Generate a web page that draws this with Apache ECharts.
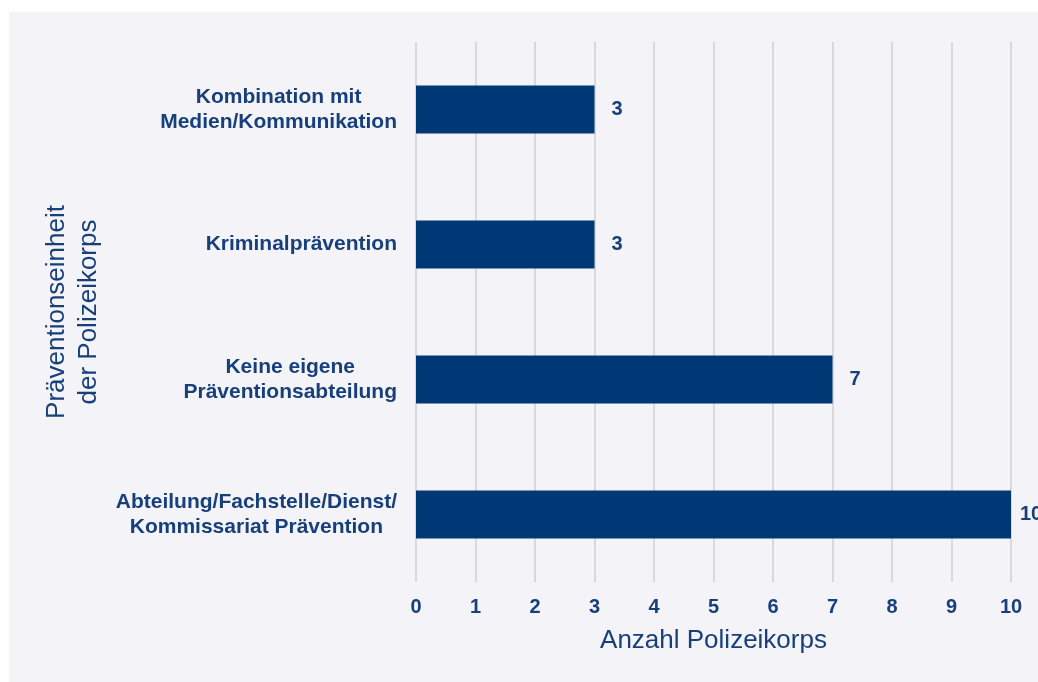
<!DOCTYPE html>
<html>
<head>
<meta charset="utf-8">
<script src="https://cdn.jsdelivr.net/npm/echarts@6/dist/echarts.min.js"></script>
<style>
  html, body { margin: 0; padding: 0; background: #fff; }
  #chart { width: 1038px; height: 682px; }
</style>
</head>
<body>
<div id="chart"></div>
<script>
// top to bottom
const categories = [
  'Kombination mit\nMedien/Kommunikation',
  'Kriminalprävention',
  'Keine eigene\nPräventionsabteilung',
  'Abteilung/Fachstelle/Dienst/\nKommissariat Prävention'
]
const counts = [3, 3, 7, 10]
const xTicks = [0, 10, 1] // min, max, interval

const navy = '#003876'
const textColor = '#173f7a'
const font = '"Liberation Sans", Arial, sans-serif'

const chart = echarts.init(document.getElementById('chart'))

chart.setOption({
  animation: false,
  graphic: [{
    type: 'rect',
    z: -10,
    shape: { x: 9, y: 12, width: 1029, height: 670 },
    style: { fill: '#f3f3f8' }
  }],
  grid: { left: 416, right: 27, top: 42, bottom: 100 },
  xAxis: {
    type: 'value',
    min: xTicks[0],
    max: xTicks[1],
    interval: xTicks[2],
    name: 'Anzahl Polizeikorps',
    nameLocation: 'middle',
    nameGap: 46,
    nameTextStyle: { fontFamily: font, fontSize: 26, color: textColor },
    axisLine: { show: false },
    axisTick: { show: false },
    axisLabel: {
      margin: 15,
      fontFamily: font,
      fontSize: 20,
      fontWeight: 'bold',
      color: textColor
    },
    splitLine: { lineStyle: { color: '#d9d9d9', width: 2 } }
  },
  yAxis: {
    type: 'category',
    inverse: true,
    data: categories,
    name: 'Präventionseinheit\nder Polizeikorps',
    nameLocation: 'middle',
    nameGap: 310,
    nameTextStyle: { fontFamily: font, fontSize: 26, color: textColor, lineHeight: 32 },
    axisLine: { show: false },
    axisTick: { show: false },
    axisLabel: {
      margin: 19,
      formatter: v => v.split('\n').map(l => '{c|' + l + '}').join('\n'),
      rich: {
        c: {
          align: 'center',
          fontFamily: font,
          fontSize: 21,
          fontWeight: 'bold',
          color: textColor,
          lineHeight: 25
        }
      }
    },
    splitLine: { show: false }
  },
  series: [{
    type: 'bar',
    // the label of the longest bar sits a little closer to the bar end
    data: counts.map(v => v === xTicks[1] ? { value: v, label: { distance: 9 } } : v),
    barWidth: '35.5%',
    itemStyle: { color: navy },
    label: {
      show: true,
      position: 'right',
      distance: 17,
      fontFamily: font,
      fontSize: 20,
      fontWeight: 'bold',
      color: textColor
    }
  }]
})
</script>
</body>
</html>
